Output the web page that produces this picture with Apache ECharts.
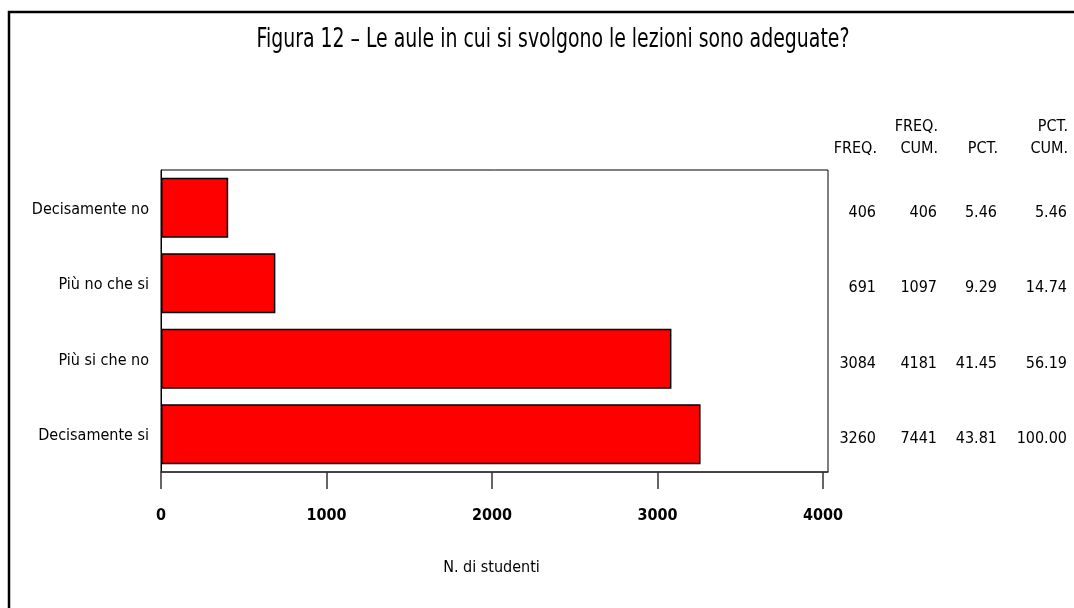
<!DOCTYPE html>
<html>
<head>
<meta charset="utf-8">
<script src="https://cdn.jsdelivr.net/npm/echarts@6/dist/echarts.min.js"></script>
<style>
html,body{margin:0;padding:0;background:#fff;}
#chart{width:1074px;height:608px;}
</style>
</head>
<body>
<div id="chart"></div>
<script>
var titleText = 'Figura 12 \u2013 Le aule in cui si svolgono le lezioni sono adeguate?';
var categories = ['Decisamente no', 'Più no che si', 'Più si che no', 'Decisamente si'];
var freq = [406, 691, 3084, 3260];
var freqCum = [406, 1097, 4181, 7441];
var pct = ['5.46', '9.29', '41.45', '43.81'];
var pctCum = ['5.46', '14.74', '56.19', '100.00'];
var xTicks = [0, 1000, 2000, 3000, 4000];
var xName = 'N. di studenti';
var headers = [['', 'FREQ.'], ['FREQ.', 'CUM.'], ['', 'PCT.'], ['PCT.', 'CUM.']];

var FONT = "'Liberation Sans Narrow', 'DejaVu Sans Condensed', 'Liberation Sans', sans-serif";
var chart = echarts.init(document.getElementById('chart'), null, {renderer: 'canvas'});

var gridLeft = 161, gridTop = 170, gridRight = 1074 - 828, gridBottom = 608 - 472;
var colRight = [876, 937, 997, 1067];
var tableCols = [freq, freqCum, pct, pctCum];

var extraY = tableCols.map(function (col, i) {
  return {
    type: 'category',
    data: col.map(String),
    inverse: true,
    position: 'right',
    offset: colRight[i] - 828,
    axisLine: {show: false},
    axisTick: {show: false},
    axisLabel: {
      margin: 0, align: 'right', color: '#000',
      fontFamily: FONT, fontSize: 16, verticalAlign: 'top', lineHeight: 10
    }
  };
});

var headerGraphics = [];
headers.forEach(function (h, i) {
  h.forEach(function (t, r) {
    if (!t) return;
    headerGraphics.push({
      type: 'text', right: 1074 - colRight[i] - 1, top: 119 + r * 22,
      style: {text: t, fill: '#000', font: '16px ' + FONT, textAlign: 'right'}
    });
  });
});

chart.setOption({
  animation: false,
  grid: {
    left: gridLeft, top: gridTop, right: gridRight, bottom: gridBottom,
    show: true, borderColor: '#000', borderWidth: 1, backgroundColor: 'transparent'
  },
  xAxis: {
    type: 'value', min: 0, max: 4030,
    name: xName, nameLocation: 'middle', nameGap: 88,
    nameTextStyle: {fontFamily: FONT, fontSize: 16, color: '#000', padding: [0, 6, 0, 0]},
    axisLine: {show: true, lineStyle: {color: '#333', width: 1.5}},
    axisTick: {show: true, length: 17, customValues: xTicks, lineStyle: {color: '#333', width: 1.5}},
    axisLabel: {
      customValues: xTicks, margin: 36, color: '#000', fontFamily: FONT, fontSize: 16, fontWeight: 'bold',
      formatter: function (v) { return String(v); }
    },
    splitLine: {show: false}
  },
  yAxis: [{
    type: 'category', data: categories, inverse: true,
    axisLine: {show: true, lineStyle: {color: '#000', width: 1}},
    axisTick: {show: false},
    axisLabel: {margin: 12, color: '#000', fontFamily: FONT, fontSize: 16, verticalAlign: 'top', lineHeight: 4}
  }].concat(extraY),
  series: [{
    type: 'bar', data: freq, yAxisIndex: 0,
    barWidth: 60,
    itemStyle: {color: '#ff0000', borderColor: '#000', borderWidth: 1.5}
  }],
  graphic: [{
    type: 'polyline', silent: true,
    shape: {points: [[9, 608], [9, 12], [1074, 12]]},
    style: {stroke: '#000', lineWidth: 2.5, fill: null}
  }, {
    type: 'text', silent: true, x: 553, y: 40, scaleX: 0.84, scaleY: 1.05,
    style: {text: titleText, fill: '#000', font: '25px ' + FONT, textAlign: 'center', textVerticalAlign: 'middle'}
  }].concat(headerGraphics)
});
</script>
</body>
</html>
